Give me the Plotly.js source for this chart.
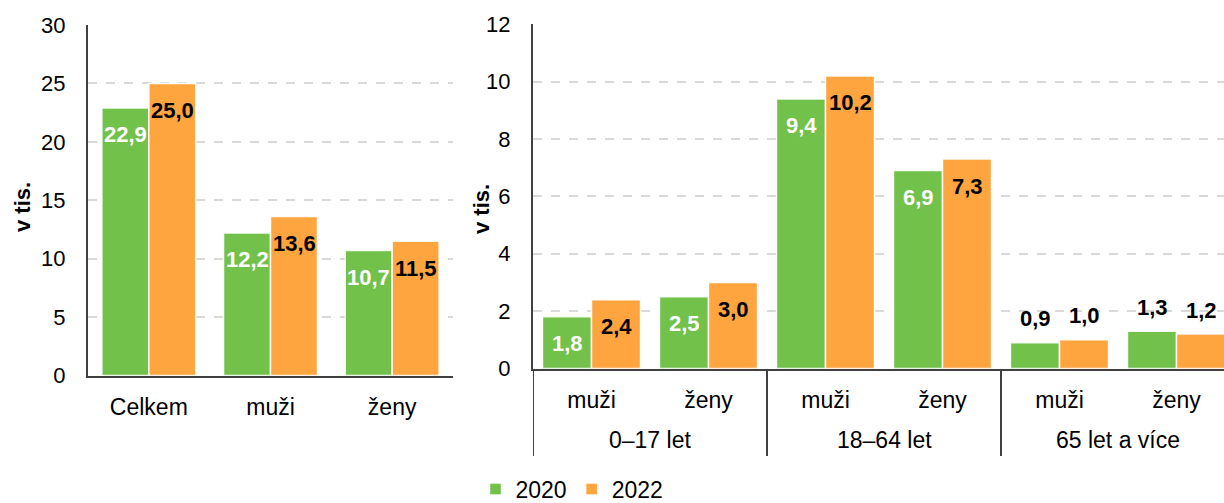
<!DOCTYPE html>
<html>
<head>
<meta charset="utf-8">
<script src="https://cdn.plot.ly/plotly-3.0.1.min.js"></script>
<style>html,body{margin:0;padding:0;background:#fff;}#chart{width:1224px;height:503px;}</style>
</head>
<body>
<div id="chart"></div>
<script>
// ---- data ----
const leftCategories = ['Celkem', 'muži', 'ženy'];
const left2020 = [22.9, 12.2, 10.7];
const left2022 = [25.0, 13.6, 11.5];

const ageGroups = ['0–17 let', '0–17 let', '18–64 let', '18–64 let', '65 let a více', '65 let a více'];
const sexes = ['muži', 'ženy', 'muži', 'ženy', 'muži', 'ženy'];
const right2020 = [1.8, 2.5, 9.4, 6.9, 0.9, 1.3];
const right2022 = [2.4, 3.0, 10.2, 7.3, 1.0, 1.2];
// labels drawn above the bar (small bars)
const outsideLabel = [false, false, false, false, true, true];

const seriesNames = ['2020', '2022'];

// ---- style ----
const GREEN = '#71C14B';
const ORANGE = '#FFA53F';
const FONT = 'Liberation Sans, Arial, sans-serif';
const AXIS = '#404040';
const GRID = '#D9D9D9';
const slotL = 0.386, slotR = 0.419;
const H = 503;

function fmt(v) { return v.toFixed(1).replace('.', ','); }

const rightPos = sexes.map((_, i) => i);

const barLine = {color: 'rgba(255,255,255,0.9)', width: 1.5};

const traces = [
  {type: 'bar', name: seriesNames[0], legendgroup: 'a', x: leftCategories, y: left2020,
   xaxis: 'x', yaxis: 'y', marker: {color: GREEN, line: barLine}, width: slotL, offset: -slotL, hoverinfo: 'none'},
  {type: 'bar', name: seriesNames[1], legendgroup: 'b', x: leftCategories, y: left2022,
   xaxis: 'x', yaxis: 'y', marker: {color: ORANGE, line: barLine}, width: slotL, offset: 0, hoverinfo: 'none'},
  {type: 'bar', name: seriesNames[0], legendgroup: 'a', showlegend: false, x: rightPos, y: right2020,
   xaxis: 'x2', yaxis: 'y2', marker: {color: GREEN, line: barLine}, width: slotR, offset: -slotR, hoverinfo: 'none'},
  {type: 'bar', name: seriesNames[1], legendgroup: 'b', showlegend: false, x: rightPos, y: right2022,
   xaxis: 'x2', yaxis: 'y2', marker: {color: ORANGE, line: barLine}, width: slotR, offset: 0, hoverinfo: 'none'}
];

const annotations = [];
function addLabels(vals, xref, yref, shift, color, outsideFlags) {
  vals.forEach((v, i) => {
    const out = outsideFlags ? outsideFlags[i] : false;
    annotations.push({
      x: i, y: v, xref: xref, yref: yref, text: '<b>' + fmt(v) + '</b>',
      showarrow: false, xshift: shift, yshift: out ? 24 : -27,
      font: {family: FONT, size: 22, color: out ? '#000' : color},
      xanchor: 'center', yanchor: 'middle'
    });
  });
}
addLabels(left2020, 'x', 'y', -23.5, '#FFFFFF');
addLabels(left2022, 'x', 'y', 23.5, '#000000');
addLabels(right2020, 'x2', 'y2', -24.5, '#FFFFFF', outsideLabel);
addLabels(right2022, 'x2', 'y2', 24.5, '#000000', outsideLabel);

// y-axis titles
annotations.push({text: '<b>v tis.</b>', textangle: -90, xref: 'paper', yref: 'paper',
  x: 22 / 1224, y: 1 - 207 / H, showarrow: false, font: {family: FONT, size: 22, color: '#000'},
  xanchor: 'center', yanchor: 'middle'});
annotations.push({text: '<b>v tis.</b>', textangle: -90, xref: 'paper', yref: 'paper',
  x: 481 / 1224, y: 1 - 209 / H, showarrow: false, font: {family: FONT, size: 22, color: '#000'},
  xanchor: 'center', yanchor: 'middle'});

// group labels + dividers for the right panel
const shapes = [];
const groups = [];
ageGroups.forEach((g, i) => {
  if (!groups.length || groups[groups.length - 1].name !== g) groups.push({name: g, start: i, end: i});
  else groups[groups.length - 1].end = i;
});
groups.forEach(g => {
  annotations.push({text: g.name, x: (g.start + g.end) / 2, xref: 'x2', yref: 'paper',
    y: 1 - 440 / H, showarrow: false, font: {family: FONT, size: 23, color: '#000'},
    xanchor: 'center', yanchor: 'middle'});
  shapes.push({type: 'line', xref: 'x2', yref: 'paper', x0: g.start - 0.5, x1: g.start - 0.5,
    y0: 1 - 369 / H, y1: 1 - 456 / H, line: {color: AXIS, width: 2}});
});

const tickFont = {family: FONT, size: 22, color: '#000'};
const xTickFont = {family: FONT, size: 23, color: '#000'};

const layout = {
  width: 1224, height: 503,
  margin: {l: 0, r: 0, t: 0, b: 0, autoexpand: false},
  paper_bgcolor: '#fff', plot_bgcolor: 'rgba(0,0,0,0)',
  barmode: 'group',
  showlegend: true,
  legend: {orientation: 'h', x: 572 / 1224, xanchor: 'center', y: 1 - 489 / H, yanchor: 'middle',
    font: {family: FONT, size: 23, color: '#000'}, itemclick: false, traceorder: 'normal'},
  font: {family: FONT},
  xaxis: {domain: [88 / 1224, 453 / 1224], anchor: 'y', type: 'category', range: [-0.5, 2.5],
    showline: true, linecolor: AXIS, linewidth: 2, ticks: '', tickfont: xTickFont,
    ticklabelstandoff: 10, showgrid: false, fixedrange: true, automargin: false},
  yaxis: {domain: [(H - 375.5) / H, (H - 25) / H], anchor: 'x', range: [0, 30], dtick: 5,
    showline: true, linecolor: AXIS, linewidth: 2, ticks: '', tickfont: tickFont, ticklabelstandoff: 16,
    showgrid: true, gridcolor: GRID, gridwidth: 2, griddash: 'dash', zeroline: false, fixedrange: true, automargin: false},
  xaxis2: {domain: [533 / 1224, 1], anchor: 'y2', type: 'linear', range: [-0.5, 5.406],
    tickmode: 'array', tickvals: rightPos, ticktext: sexes,
    showline: true, linecolor: AXIS, linewidth: 2, ticks: '', tickfont: xTickFont,
    ticklabelstandoff: 10, showgrid: false, zeroline: false, fixedrange: true, automargin: false},
  yaxis2: {domain: [(H - 368.5) / H, (H - 24.3) / H], anchor: 'x2', range: [0, 12], dtick: 2,
    showline: true, linecolor: AXIS, linewidth: 2, ticks: '', tickfont: tickFont, ticklabelstandoff: 16,
    showgrid: true, gridcolor: GRID, gridwidth: 2, griddash: 'dash', zeroline: false, fixedrange: true, automargin: false},
  annotations: annotations,
  shapes: shapes
};

Plotly.newPlot('chart', traces, layout, {displayModeBar: false, staticPlot: true});
</script>
</body>
</html>
